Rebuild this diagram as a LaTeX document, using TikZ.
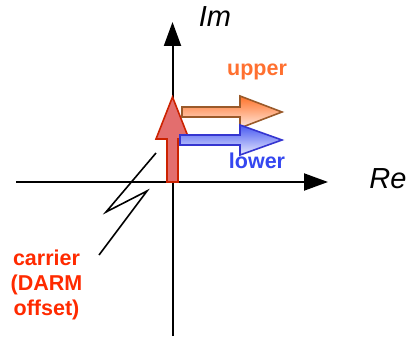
\documentclass[tikz,border=0pt]{standalone}
\usepackage{fontspec}
\setmainfont{Liberation Sans}
\usetikzlibrary{arrows.meta}
\definecolor{uppercol}{HTML}{FF7030}
\definecolor{lowercol}{HTML}{3447F0}
\definecolor{carriercol}{HTML}{FF2A00}
\definecolor{redfill}{HTML}{E36E6E}
\definecolor{rededge}{HTML}{CC2200}
\definecolor{orangeedge}{HTML}{9A5A2A}
\definecolor{blueedge}{HTML}{3535D0}
\tikzset{
  axis/.style={line width=2pt,-{Triangle[length=24pt,width=17pt]}},
  axislabel/.style={font=\fontsize{29}{31}\selectfont\itshape,anchor=base},
  sblabel/.style={font=\fontsize{21.5}{25}\selectfont\bfseries,anchor=base},
  blockarrow/.style={line width=1.6pt,line join=miter}
}
\begin{document}
\begin{tikzpicture}[x=1pt,y=-1pt]
\useasboundingbox (0,0) rectangle (409,339);
% axes
\coordinate (xl) at (16,182);
\coordinate (xr) at (328,182);
\coordinate (yb) at (172.5,336);
\coordinate (yt) at (172.5,22);
\draw[axis] (xl) -- (xr);
\draw[axis] (yb) -- (yt);
\node[axislabel] (im) at (215,27) {Im};
\node[axislabel] (re) at (388,188) {Re};
% lightning
\coordinate (z1) at (156,153);
\coordinate (z2) at (106,212);
\coordinate (z3) at (147,191);
\coordinate (z4) at (99,255);
\draw[line width=1.6pt,line join=miter] (z1) -- (z2) -- (z3) -- (z4);
% red carrier arrow
\draw[blockarrow,draw=rededge,fill=redfill]
  (167,182) -- (167,139) -- (156,139) -- (172.5,97) -- (189,139) -- (178,139) -- (178,182) -- cycle;
% orange upper arrow
\draw[blockarrow,draw=orangeedge,top color=uppercol!85!orange,bottom color=uppercol!15!white]
  (182,107) -- (240,107) -- (240,96) -- (282,112) -- (240,128) -- (240,117) -- (182,117) -- cycle;
% blue lower arrow
\draw[blockarrow,draw=blueedge,top color=lowercol!90!white,bottom color=lowercol!12!white]
  (180,135) -- (240,135) -- (240,125) -- (282,140) -- (240,155) -- (240,145) -- (180,145) -- cycle;
% labels
\node[sblabel,text=uppercol] (upper) at (257,76) {upper};
\node[sblabel,text=lowercol] (lower) at (257,168) {lower};
\node[sblabel,text=carriercol,align=center,anchor=north] (carrier) at (46.5,246) {carrier\\(DARM\\offset)};
\end{tikzpicture}
\end{document}
